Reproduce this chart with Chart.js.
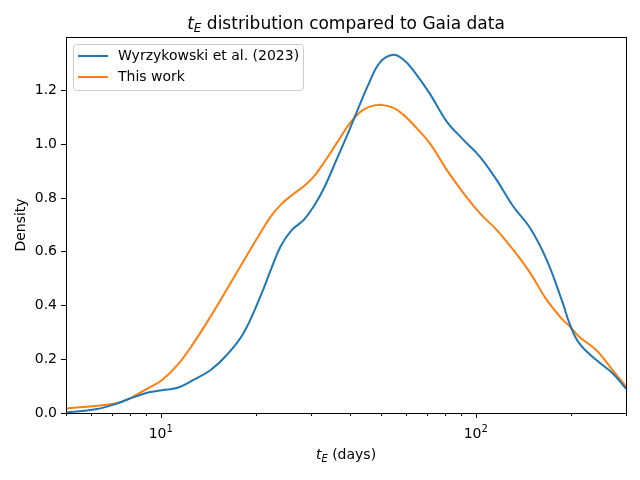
<!DOCTYPE html>
<html>
<head>
<meta charset="utf-8">
<script src="https://cdn.jsdelivr.net/npm/chart.js@4.4.1/dist/chart.umd.min.js"></script>
<style>
  html, body { margin: 0; padding: 0; background: #fff; }
  #chart { display: block; }
</style>
</head>
<body>
<canvas id="chart" width="640" height="480"></canvas>
<script>
var days = [5, 6.2, 7.2, 7.9, 9.1, 10.1, 11.3, 12.7, 14.4, 16.2, 18.3, 20.7, 22.3, 24, 26, 28.5, 30.6, 32.9, 36.2, 39.9,
            42.9, 45.5, 49.6, 54.8, 59, 63.2, 71.4, 80.8, 91.4, 103, 116.5, 131.6, 149, 168, 189, 199, 213, 241, 272, 300];

// Wyrzykowski et al. (2023)
var wyrz = [0.002, 0.014, 0.034, 0.052, 0.076, 0.085, 0.094, 0.123, 0.16, 0.216, 0.297, 0.433, 0.53, 0.62, 0.68, 0.72, 0.77, 0.835, 0.945, 1.06,
            1.15, 1.22, 1.305, 1.334, 1.315, 1.278, 1.19, 1.086, 1.017, 0.955, 0.868, 0.769, 0.688, 0.57, 0.409, 0.33, 0.26, 0.198, 0.148, 0.09];

// This work
var thisWork = [0.017, 0.026, 0.036, 0.052, 0.092, 0.123, 0.179, 0.26, 0.36, 0.46, 0.565, 0.67, 0.73, 0.775, 0.81, 0.845, 0.88, 0.931, 1.005, 1.08,
                1.12, 1.138, 1.148, 1.136, 1.11, 1.075, 1.005, 0.906, 0.819, 0.744, 0.682, 0.607, 0.521, 0.421, 0.347, 0.322, 0.284, 0.235, 0.16, 0.098];

var seriesNames = ["Wyrzykowski et al. (2023)", "This work"];
var yTicks = [0, 0.2, 0.4, 0.6, 0.8, 1.0, 1.2];
var xMajor = [10, 100];
var xMinor = [5, 6, 7, 8, 9, 20, 30, 40, 50, 60, 70, 80, 90, 200, 300];

var FONT = "'DejaVu Sans', sans-serif";

function toPoints(ys) {
    return days.map(function (d, i) { return { x: d, y: ys[i] }; });
}

// draws t with italic subscript E at left baseline (x, y), returns its width
function drawTE(ctx, x, y, size) {
    ctx.font = "italic " + size + "px " + FONT;
    ctx.textAlign = "left";
    ctx.fillText("t", x, y);
    var w = ctx.measureText("t").width;
    ctx.font = "italic " + Math.round(size * 0.7) + "px " + FONT;
    ctx.fillText("E", x + w, y + size * 0.2);
    return w + ctx.measureText("E").width;
}

function teWidth(ctx, size) {
    ctx.font = "italic " + size + "px " + FONT;
    var w = ctx.measureText("t").width;
    ctx.font = "italic " + Math.round(size * 0.7) + "px " + FONT;
    return w + ctx.measureText("E").width;
}

function textWidth(ctx, s, size) {
    ctx.font = size + "px " + FONT;
    return ctx.measureText(s).width;
}

var decor = {
    id: "decor",
    afterDraw: function (chart) {
        var ctx = chart.ctx;
        var a = chart.chartArea;
        var xs = chart.scales.x;
        ctx.save();
        ctx.fillStyle = "#000";
        ctx.strokeStyle = "#000";

        // frame
        ctx.lineWidth = 1;
        ctx.strokeRect(Math.round(a.left) + 0.5, Math.round(a.top) + 0.5,
                       Math.round(a.right - a.left), Math.round(a.bottom - a.top));

        // x ticks
        ctx.beginPath();
        xMinor.forEach(function (v) {
            var px = Math.round(xs.getPixelForValue(v)) + 0.5;
            ctx.moveTo(px, a.bottom); ctx.lineTo(px, a.bottom + 3);
        });
        xMajor.forEach(function (v) {
            var px = Math.round(xs.getPixelForValue(v)) + 0.5;
            ctx.moveTo(px, a.bottom); ctx.lineTo(px, a.bottom + 5);
        });
        ctx.stroke();

        // x tick labels 10^1, 10^2
        ctx.textBaseline = "alphabetic";
        ctx.textAlign = "left";
        xMajor.forEach(function (v) {
            var px = xs.getPixelForValue(v);
            var exp = String(Math.round(Math.log10(v)));
            var w1 = textWidth(ctx, "10", 14);
            var w2 = textWidth(ctx, exp, 10);
            var x0 = px - (w1 + w2) / 2;
            ctx.font = "14px " + FONT;
            ctx.fillText("10", x0, a.bottom + 25);
            ctx.font = "10px " + FONT;
            ctx.fillText(exp, x0 + w1, a.bottom + 19);
        });

        // x axis label
        var cx = (a.left + a.right) / 2;
        var rest = " (days)";
        var lx = cx - (teWidth(ctx, 14) + textWidth(ctx, rest, 14)) / 2;
        var tw = drawTE(ctx, lx, 459, 14);
        ctx.font = "14px " + FONT;
        ctx.fillText(rest, lx + tw, 459);

        // y axis label
        ctx.save();
        ctx.translate(25, (a.top + a.bottom) / 2);
        ctx.rotate(-Math.PI / 2);
        ctx.textAlign = "center";
        ctx.font = "14px " + FONT;
        ctx.fillText("Density", 0, 0);
        ctx.restore();

        // title
        var title = " distribution compared to Gaia data";
        var tx = cx - (teWidth(ctx, 17) + textWidth(ctx, title, 17)) / 2;
        var tw2 = drawTE(ctx, tx, 29, 17);
        ctx.font = "17px " + FONT;
        ctx.textAlign = "left";
        ctx.fillText(title, tx + tw2, 29);

        // legend
        var lgX = a.left + 7, lgY = a.top + 7, lgW = 230, lgH = 46;
        ctx.fillStyle = "rgba(255,255,255,0.8)";
        ctx.strokeStyle = "#cccccc";
        ctx.lineWidth = 1;
        ctx.beginPath();
        ctx.roundRect(lgX + 0.5, lgY + 0.5, lgW, lgH, 3);
        ctx.fill();
        ctx.stroke();
        chart.data.datasets.forEach(function (ds, i) {
            var yy = lgY + 12 + i * 21;
            ctx.strokeStyle = ds.borderColor;
            ctx.lineWidth = 2;
            ctx.beginPath();
            ctx.moveTo(lgX + 5, yy);
            ctx.lineTo(lgX + 35, yy);
            ctx.stroke();
            ctx.fillStyle = "#000";
            ctx.font = "14px " + FONT;
            ctx.textAlign = "left";
            ctx.textBaseline = "middle";
            ctx.fillText(ds.label, lgX + 45, yy);
        });
        ctx.restore();
    }
};

new Chart(document.getElementById("chart"), {
    type: "line",
    data: {
        datasets: [
            {
                label: seriesNames[0],
                data: toPoints(wyrz),
                borderColor: "#1f77b4",
                borderWidth: 2,
                pointRadius: 0,
                tension: 0.4,
                fill: false,
                clip: 0
            },
            {
                label: seriesNames[1],
                data: toPoints(thisWork),
                borderColor: "#ff7f0e",
                borderWidth: 2,
                pointRadius: 0,
                tension: 0.4,
                fill: false,
                clip: 0
            }
        ]
    },
    options: {
        responsive: false,
        animation: false,
        devicePixelRatio: 1,
        layout: { padding: { top: 37, right: 14, left: 0, bottom: 0 } },
        plugins: {
            legend: { display: false },
            title: { display: false },
            tooltip: { enabled: false }
        },
        scales: {
            x: {
                type: "logarithmic",
                min: 5,
                max: 300,
                grid: { display: false },
                border: { display: false },
                ticks: { display: false },
                afterFit: function (scale) { scale.height = 67; }
            },
            y: {
                min: 0,
                max: 1.4,
                grid: { drawOnChartArea: false, tickLength: 5, tickColor: "#000", tickWidth: 1 },
                border: { display: false },
                ticks: {
                    color: "#000",
                    padding: 4,
                    font: { family: "DejaVu Sans", size: 14 },
                    callback: function (v) { return v.toFixed(1); }
                },
                afterBuildTicks: function (scale) {
                    scale.ticks = yTicks.map(function (v) { return { value: v }; });
                },
                afterFit: function (scale) { scale.width = 66; }
            }
        }
    },
    plugins: [decor]
});
</script>
</body>
</html>
